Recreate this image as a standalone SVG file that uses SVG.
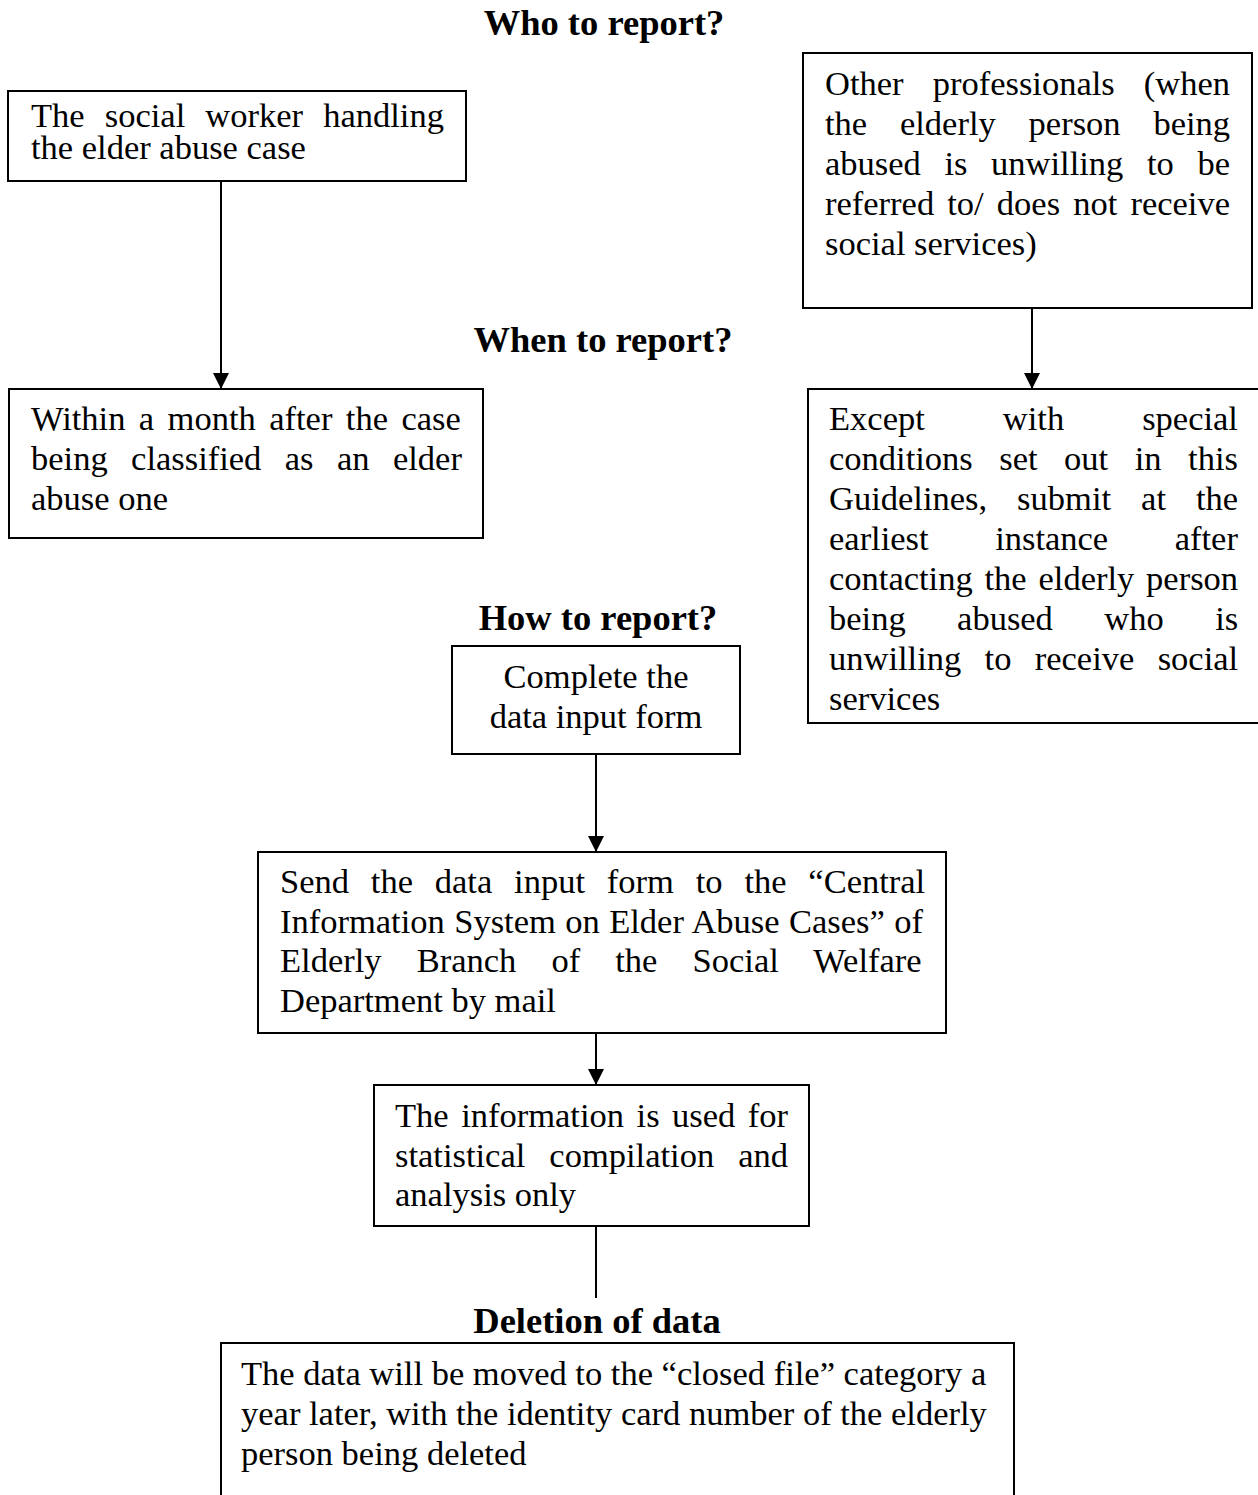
<svg xmlns="http://www.w3.org/2000/svg" width="1258" height="1495" viewBox="0 0 1258 1495">
<style>
.bx{fill:#fff;stroke:#000;stroke-width:2}
.t{font-family:"Liberation Serif","Times New Roman",serif;font-size:34.5px;fill:#000}
.h{font-family:"Liberation Serif","Times New Roman",serif;font-size:36.5px;font-weight:bold;fill:#000;text-anchor:middle}
.c{text-anchor:middle}
.ln{stroke:#000;stroke-width:2;fill:none}
</style>
<defs>
<marker id="ah" markerUnits="userSpaceOnUse" markerWidth="16" markerHeight="16" refX="16" refY="8" orient="auto">
<path d="M0,0 L16,8 L0,16 z" fill="#000"/>
</marker>
</defs>
<rect width="1258" height="1495" fill="#fff"/>

<g id="titles">
<text class="h" x="604" y="35">Who to report?</text>
<text class="h" x="603" y="352">When to report?</text>
<text class="h" x="598" y="630">How to report?</text>
<text class="h" x="597" y="1333">Deletion of data</text>
</g>

<g id="connectors">
<line class="ln" x1="221" y1="181" x2="221" y2="389" marker-end="url(#ah)"/>
<line class="ln" x1="1032" y1="308" x2="1032" y2="389" marker-end="url(#ah)"/>
<line class="ln" x1="596" y1="754" x2="596" y2="852" marker-end="url(#ah)"/>
<line class="ln" x1="596" y1="1033" x2="596" y2="1085" marker-end="url(#ah)"/>
<line class="ln" x1="596" y1="1226" x2="596" y2="1298"/>
</g>

<g id="node-social-worker">
<rect class="bx" x="8" y="91" width="458" height="90"/>
<text class="t" x="31" y="127" style="word-spacing:11.5px">The social worker handling</text>
<text class="t" x="31" y="159">the elder abuse case</text>
</g>

<g id="node-other-professionals">
<rect class="bx" x="803" y="53" width="449" height="255"/>
<text class="t" x="825" y="95" style="word-spacing:20.5px">Other professionals (when</text>
<text class="t" x="825" y="135" style="word-spacing:24.2px">the elderly person being</text>
<text class="t" x="825" y="175" style="word-spacing:15px">abused is unwilling to be</text>
<text class="t" x="825" y="215" style="word-spacing:4.5px">referred to/ does not receive</text>
<text class="t" x="825" y="255">social services)</text>
</g>

<g id="node-within-month">
<rect class="bx" x="9" y="389" width="474" height="149"/>
<text class="t" x="31" y="430" style="word-spacing:4.8px">Within a month after the case</text>
<text class="t" x="31" y="470" style="word-spacing:14.8px">being classified as an elder</text>
<text class="t" x="31" y="510">abuse one</text>
</g>

<g id="node-except">
<rect class="bx" x="808" y="389" width="460" height="334"/>
<text class="t" x="829" y="430" style="word-spacing:69.4px">Except with special</text>
<text class="t" x="829" y="470" style="word-spacing:17.9px">conditions set out in this</text>
<text class="t" x="829" y="510" style="word-spacing:21.4px">Guidelines, submit at the</text>
<text class="t" x="829" y="550" style="word-spacing:57.9px">earliest instance after</text>
<text class="t" x="829" y="590" style="word-spacing:3.2px">contacting the elderly person</text>
<text class="t" x="829" y="630" style="word-spacing:42.8px">being abused who is</text>
<text class="t" x="829" y="670" style="word-spacing:14.7px">unwilling to receive social</text>
<text class="t" x="829" y="710">services</text>
</g>

<g id="node-complete-form">
<rect class="bx" x="452" y="646" width="288" height="108"/>
<text class="t c" x="596" y="688">Complete the</text>
<text class="t c" x="596" y="728">data input form</text>
</g>

<g id="node-send-form">
<rect class="bx" x="258" y="852" width="688" height="181"/>
<text class="t" x="280" y="893" style="word-spacing:13.2px">Send the data input form to the “Central</text>
<text class="t" x="280" y="933" style="word-spacing:0.8px">Information System on Elder Abuse Cases” of</text>
<text class="t" x="280" y="972" style="word-spacing:26.5px">Elderly Branch of the Social Welfare</text>
<text class="t" x="280" y="1012">Department by mail</text>
</g>

<g id="node-information-used">
<rect class="bx" x="374" y="1085" width="435" height="141"/>
<text class="t" x="395" y="1127" style="word-spacing:3.9px">The information is used for</text>
<text class="t" x="395" y="1167" style="word-spacing:15.4px">statistical compilation and</text>
<text class="t" x="395" y="1206">analysis only</text>
</g>

<g id="node-deletion">
<rect class="bx" x="221" y="1343" width="793" height="170"/>
<text class="t" x="241" y="1385">The data will be moved to the “closed file” category a</text>
<text class="t" x="241" y="1425">year later, with the identity card number of the elderly</text>
<text class="t" x="241" y="1465">person being deleted</text>
</g>
</svg>
